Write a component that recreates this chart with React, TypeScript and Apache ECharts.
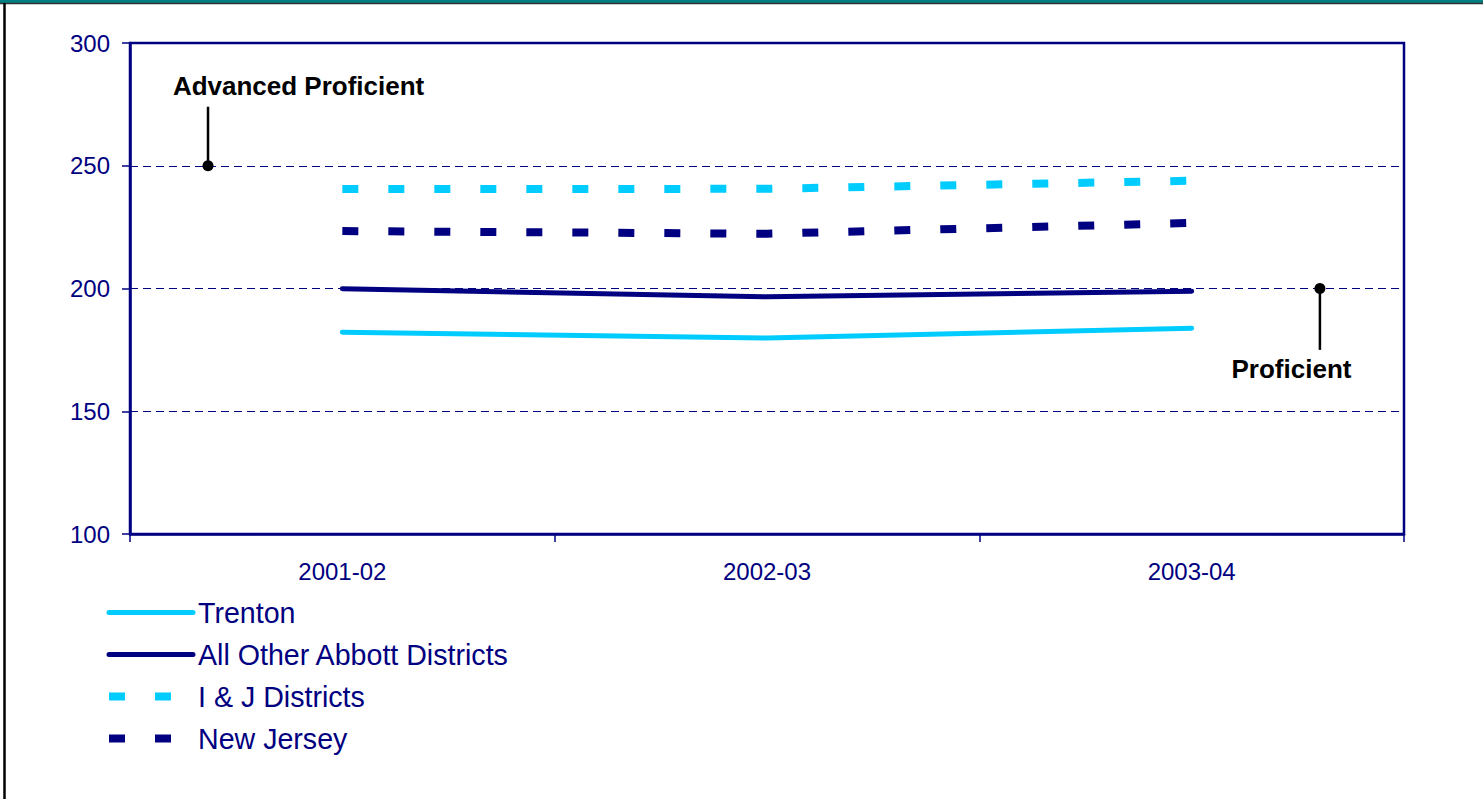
import React, { useEffect, useRef } from "react";
import * as echarts from "echarts";

const categories = ["2001-02", "2002-03", "2003-04"];
const trenton = [182.2, 179.8, 183.8];
const allOtherAbbott = [199.9, 196.6, 198.9];
const ijDistricts = [240.5, 240.6, 243.9];
const newJersey = [223.4, 222.3, 226.7];
const seriesNames = ["Trenton", "All Other Abbott Districts", "I & J Districts", "New Jersey"];
const yMin = 100;
const yMax = 300;
const yInterval = 50;
const advancedLevel = 250;
const proficientLevel = 200;
const levelLabels = ["Advanced Proficient", "Proficient"];

const NAVY = "#000080";
const CYAN = "#00CCFF";
const FONT = "'Liberation Sans', Arial, sans-serif";

export default function App() {
  const ref = useRef<HTMLDivElement>(null);
  useEffect(() => {
    if (!ref.current) return;
    const chart = echarts.init(ref.current, null, { renderer: "svg" });
    const solid = (name: string, data: number[], color: string) => ({
      name,
      type: "line",
      data,
      symbol: "none",
      lineStyle: { color, width: 5, cap: "round" },
      itemStyle: { color },
      silent: true,
      z: 3,
    });
    const dashed = (name: string, data: number[], color: string) => ({
      name,
      type: "line",
      data,
      symbol: "none",
      lineStyle: { color, width: 8, type: [16, 30], cap: "butt" },
      itemStyle: { color },
      silent: true,
      z: 3,
    });
    const advX = 0.1837;
    const profX = 2.802;
    chart.setOption({
      animation: false,
      grid: {
        left: 130,
        top: 43,
        right: 79,
        bottom: 265,
        show: true,
        borderColor: NAVY,
        borderWidth: 2.5,
        backgroundColor: "transparent",
      },
      xAxis: [
        {
          type: "category",
          data: categories,
          boundaryGap: true,
          axisLine: { lineStyle: { color: NAVY, width: 2.5 } },
          axisTick: { show: true, length: 8, lineStyle: { color: NAVY, width: 1.5 } },
          axisLabel: { color: NAVY, fontSize: 24, fontFamily: FONT, margin: 25 },
        },
        { type: "value", min: 0, max: 3, show: false },
      ],
      yAxis: {
        type: "value",
        min: yMin,
        max: yMax,
        interval: yInterval,
        axisLine: { show: true, lineStyle: { color: NAVY, width: 2.5 } },
        axisTick: { show: true, length: 8, lineStyle: { color: NAVY, width: 1.5 } },
        axisLabel: { color: NAVY, fontSize: 24, fontFamily: FONT, margin: 20 },
        splitLine: { show: true, lineStyle: { color: NAVY, width: 1, type: [8, 5] } },
      },
      legend: {
        orient: "vertical",
        left: 100,
        top: 593,
        itemWidth: 84,
        itemHeight: 8,
        itemGap: 13,
        textStyle: { color: NAVY, fontSize: 28.6, fontFamily: FONT },
        itemStyle: { opacity: 0 },
        data: [
          { name: seriesNames[0], lineStyle: { width: 5 } },
          { name: seriesNames[1], lineStyle: { width: 5 } },
          { name: seriesNames[2], lineStyle: { width: 8 } },
          { name: seriesNames[3], lineStyle: { width: 8 } },
        ],
        selectedMode: false,
      },
      graphic: [
        { type: "rect", shape: { x: 0, y: 0, width: 1483, height: 3 }, style: { fill: "#008080" } },
        { type: "line", shape: { x1: 0, y1: 3.5, x2: 1483, y2: 3.5 }, style: { stroke: "#333333", lineWidth: 1.5 } },
        { type: "line", shape: { x1: 4.5, y1: 3, x2: 4.5, y2: 799 }, style: { stroke: "#000000", lineWidth: 2.5 } },
      ],
      series: [
        solid(seriesNames[0], trenton, CYAN),
        solid(seriesNames[1], allOtherAbbott, NAVY),
        dashed(seriesNames[2], ijDistricts, CYAN),
        dashed(seriesNames[3], newJersey, NAVY),
        {
          name: "adv-marker",
          type: "line",
          xAxisIndex: 1,
          silent: true,
          showSymbol: true,
          symbol: "none",
          lineStyle: { color: "#000", width: 2.5 },
          itemStyle: { color: "#000" },
          data: [
            { value: [advX, advancedLevel], symbol: "circle", symbolSize: 11 },
            { value: [advX, 274], symbol: "none" },
          ],
          z: 5,
        },
        {
          name: "prof-marker",
          type: "line",
          xAxisIndex: 1,
          silent: true,
          showSymbol: true,
          symbol: "none",
          lineStyle: { color: "#000", width: 2.5 },
          itemStyle: { color: "#000" },
          data: [
            { value: [profX, proficientLevel], symbol: "circle", symbolSize: 11 },
            { value: [profX, 175], symbol: "none" },
          ],
          z: 5,
        },
        {
          name: "level-labels",
          type: "scatter",
          xAxisIndex: 1,
          silent: true,
          symbolSize: 1,
          itemStyle: { color: "transparent" },
          label: {
            show: true,
            position: "inside",
            formatter: "{b}",
            color: "#000000",
            opacity: 1,
            textBorderWidth: 0,
            fontSize: 26,
            fontWeight: "bold",
            fontFamily: FONT,
          },
          data: [
            { name: levelLabels[0], value: [0.397, 282.5] },
            { name: levelLabels[1], value: [2.735, 167.2] },
          ],
          z: 6,
        },
      ],
    });
    return () => chart.dispose();
  }, []);
  return (
    <div
      ref={ref}
      style={{ position: "fixed", left: 0, top: 0, width: 1483, height: 799, background: "#fff" }}
    />
  );
}
